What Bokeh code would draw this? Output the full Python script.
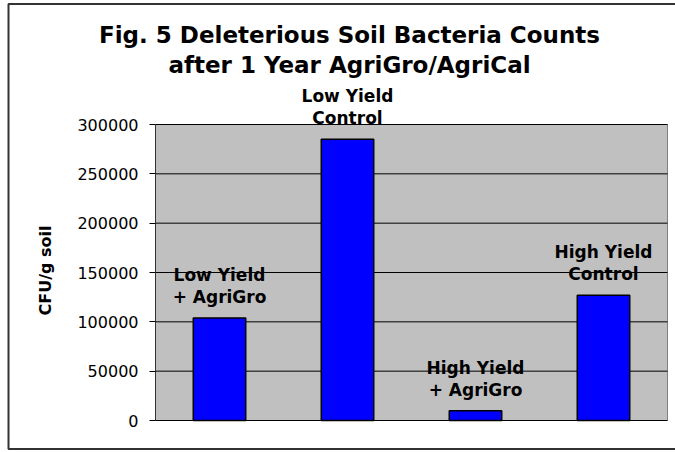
from bokeh.plotting import figure
from bokeh.models import (ColumnDataSource, LabelSet, Label,
                          FixedTicker, BasicTickFormatter, Range1d)
from bokeh.core.properties import value
from bokeh.embed import file_html
from bokeh.resources import INLINE
import math

# ---- data ----
categories = ["Low Yield + AgriGro", "Low Yield Control",
              "High Yield + AgriGro", "High Yield Control"]
label_line1 = ["Low Yield", "Low Yield", "High Yield", "High Yield"]
label_line2 = ["+ AgriGro", "Control", "+ AgriGro", "Control"]
cfu_values = [104000, 285000, 10000, 127000]
y_ticks = [0, 50000, 100000, 150000, 200000, 250000, 300000]
title_lines = ["Fig. 5 Deleterious Soil Bacteria Counts",
               "after 1 Year AgriGro/AgriCal"]
y_title = "CFU/g soil"

# ---- layout constants (pixels) ----
W, H = 675, 452
PLOT_L, PLOT_R, PLOT_T, PLOT_B = 155, 667, 124, 420
n = len(categories)
y_max = y_ticks[-1]
px_per_cat = (PLOT_R - PLOT_L) / n
px_per_val = (PLOT_B - PLOT_T) / y_max


def px_to_x(px):
    return (px - PLOT_L) / px_per_cat


def px_to_y(py):
    return (PLOT_B - py) / px_per_val


cat_pos = [i + 0.5 for i in range(n)]  # category slots on the x scale

src = ColumnDataSource(dict(x=cat_pos, cat=categories, val=cfu_values,
                            l1=label_line1, l2=label_line2))

p = figure(width=W, height=H,
           x_range=Range1d(px_to_x(0), px_to_x(W)),
           y_range=Range1d(px_to_y(H), px_to_y(0)),
           output_backend="svg", toolbar_location=None,
           min_border=0, min_border_left=0, min_border_right=0,
           min_border_top=0, min_border_bottom=0)

p.background_fill_color = "white"
p.border_fill_color = "white"
p.outline_line_color = None
p.xaxis.visible = False
p.xgrid.visible = False
p.ygrid.visible = False

# outer chart border (right edge runs off the picture)
p.quad(left=px_to_x(8), right=px_to_x(W + 20), top=px_to_y(3.5),
       bottom=px_to_y(448.5), fill_alpha=0, line_color="#333333",
       line_width=2)

# plot area
p.quad(left=0, right=n, bottom=0, top=y_max, fill_color="#C0C0C0",
       line_color="#808080", line_width=1)

# gridlines at every tick
p.segment(x0=[0] * len(y_ticks), x1=[n] * len(y_ticks),
          y0=y_ticks, y1=y_ticks, line_color="black", line_width=1)

# y axis placed at the plot-area edge
yax = p.yaxis[0]
yax.fixed_location = 0
yax.bounds = (0, y_max)
yax.ticker = FixedTicker(ticks=y_ticks)
yax.formatter = BasicTickFormatter(use_scientific=False)
yax.major_tick_out = 6
yax.major_tick_in = 0
yax.minor_tick_out = 0
yax.minor_tick_in = 0
yax.axis_line_color = "#333333"
yax.major_tick_line_color = "black"
yax.major_label_standoff = 11
yax.major_label_text_font = "DejaVu Sans"
yax.major_label_text_font_size = "16px"
yax.major_label_text_color = "black"

# bars
p.vbar(x="x", top="val", width=0.41, source=src,
       fill_color="#0000FF", line_color="black", line_width=1.5)

lab_font = value("DejaVu Sans")
p.add_layout(LabelSet(x="x", y="val", text="l2", source=src,
                      y_offset=15, text_align="center",
                      text_baseline="alphabetic", text_font=lab_font,
                      text_font_style="bold", text_font_size="17px",
                      text_color="black"))
p.add_layout(LabelSet(x="x", y="val", text="l1", source=src,
                      y_offset=37, text_align="center",
                      text_baseline="alphabetic", text_font=lab_font,
                      text_font_style="bold", text_font_size="17px",
                      text_color="black"))

# titles
for line, base in zip(title_lines, [34, 64]):
    p.add_layout(Label(x=px_to_x(349), y=px_to_y(base), text=line,
                       text_align="center", text_baseline="alphabetic",
                       text_font="DejaVu Sans", text_font_style="bold",
                       text_font_size="23px", text_color="black"))

# y axis title
p.add_layout(Label(x=px_to_x(45), y=px_to_y(270), text=y_title,
                   angle=math.pi / 2, text_align="center",
                   text_baseline="middle", text_font="DejaVu Sans",
                   text_font_style="bold", text_font_size="16px",
                   text_color="black"))

open("out.html", "w").write(file_html(p, INLINE))
